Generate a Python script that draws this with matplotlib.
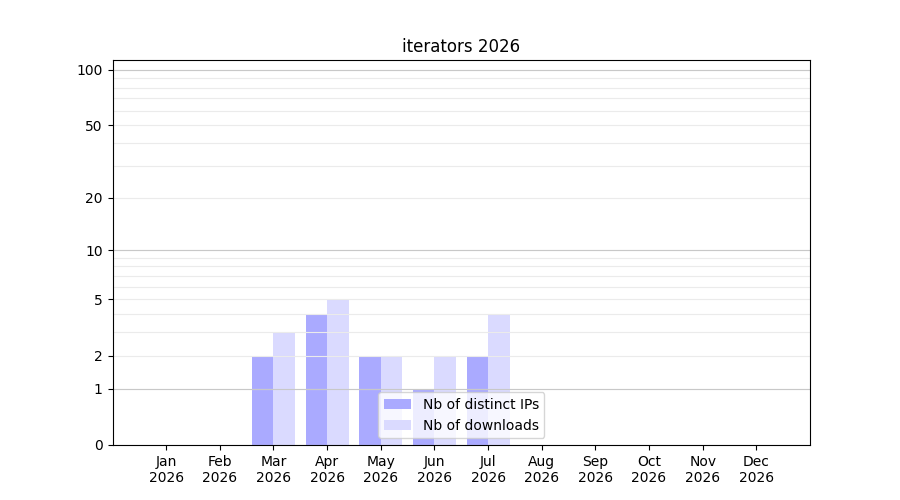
import numpy as np
import matplotlib
matplotlib.use('Agg')
import matplotlib.pyplot as plt

months = ['Jan', 'Feb', 'Mar', 'Apr', 'May', 'Jun',
          'Jul', 'Aug', 'Sep', 'Oct', 'Nov', 'Dec']
year = '2026'
distinct_ips = [0, 0, 2, 4, 2, 1, 2, 0, 0, 0, 0, 0]
downloads = [0, 0, 3, 5, 2, 2, 4, 0, 0, 0, 0, 0]


def fwd(y):
    return np.log10(1 + np.clip(y, 0, None))


def inv(y):
    return 10 ** y - 1


fig, ax = plt.subplots(figsize=(9, 5), dpi=100)
x = np.arange(len(months))
w = 0.4
ax.bar(x - w / 2, distinct_ips, w, color='#aaaaff', label='Nb of distinct IPs')
ax.bar(x + w / 2, downloads, w, color='#dadaff', label='Nb of downloads')

ax.set_yscale('function', functions=(fwd, inv))
ax.set_ylim(0, 113)
ax.set_xlim(-1, 12)

ax.set_yticks([0, 1, 2, 5, 10, 20, 50, 100])
ax.set_yticklabels(['0', '1', '2', '5', '10', '20', '50', '100'])
ax.set_yticks([3, 4, 6, 7, 8, 9, 30, 40, 60, 70, 80, 90], minor=True)
ax.tick_params(axis='y', which='minor', length=0)
ax.grid(True, axis='y', which='both', color='#ebebeb', linewidth=0.8)
for v in [1, 10, 100]:
    ax.axhline(v, color='#c8c8c8', linewidth=0.8, zorder=1.6)

ax.set_xticks(x)
ax.set_xticklabels([f'{m}\n{year}' for m in months])
ax.set_title('iterators 2026')
ax.legend(loc='lower center')

fig.savefig('out.png')
